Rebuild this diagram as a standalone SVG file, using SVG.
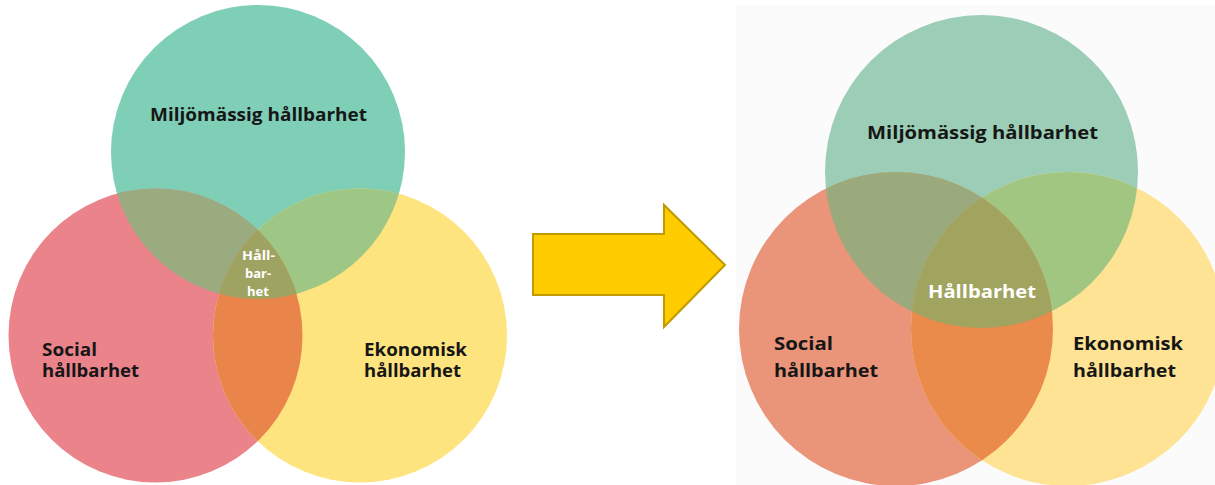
<svg xmlns="http://www.w3.org/2000/svg" width="1215" height="485" viewBox="0 0 1215 485">
<style>
.lbl{font-family:"Open Sans","Noto Sans","Liberation Sans",sans-serif;font-weight:bold;fill:#161616}
.w{fill:#ffffff}
</style>
<defs>
<clipPath id="lG"><circle cx="258" cy="152" r="147"/></clipPath>
<clipPath id="lR"><circle cx="155.5" cy="335.5" r="147"/></clipPath>
<clipPath id="lY"><circle cx="360" cy="335.5" r="147"/></clipPath>
<clipPath id="rG"><circle cx="981.5" cy="171.5" r="156.5"/></clipPath>
<clipPath id="rR"><circle cx="896" cy="329" r="157"/></clipPath>
<clipPath id="rY"><circle cx="1068" cy="329" r="157"/></clipPath>
</defs>
<rect width="1215" height="485" fill="#ffffff"/>
<rect x="736" y="5" width="479" height="480" fill="#fbfbfb"/>

<g id="left-venn">
<g id="left-green"><circle cx="258" cy="152" r="147" fill="#7ecfb6"/></g>
<g id="left-red"><circle cx="155.5" cy="335.5" r="147" fill="#eb848a"/></g>
<g id="left-yellow"><circle cx="360" cy="335.5" r="147" fill="#fee47f"/></g>
<circle cx="155.5" cy="335.5" r="147" fill="#9aab80" clip-path="url(#lG)"/>
<circle cx="360" cy="335.5" r="147" fill="#9ec685" clip-path="url(#lG)"/>
<circle cx="360" cy="335.5" r="147" fill="#e9854b" clip-path="url(#lR)"/>
<g clip-path="url(#lG)"><circle cx="360" cy="335.5" r="147" fill="#9fa362" clip-path="url(#lR)"/></g>
<text class="lbl" x="150" y="121" font-size="17" textLength="217" lengthAdjust="spacingAndGlyphs">Miljömässig hållbarhet</text>
<text class="lbl" x="42" y="356" font-size="17" textLength="55" lengthAdjust="spacingAndGlyphs">Social</text>
<text class="lbl" x="42" y="377" font-size="17" textLength="97" lengthAdjust="spacingAndGlyphs">hållbarhet</text>
<text class="lbl" x="364" y="356" font-size="17" textLength="103" lengthAdjust="spacingAndGlyphs">Ekonomisk</text>
<text class="lbl" x="364" y="377" font-size="17" textLength="97" lengthAdjust="spacingAndGlyphs">hållbarhet</text>
<text class="lbl w" x="242" y="260" font-size="13" textLength="33" lengthAdjust="spacingAndGlyphs">Håll-</text>
<text class="lbl w" x="258" y="278" font-size="13" text-anchor="middle">bar-</text>
<text class="lbl w" x="258" y="296" font-size="13" text-anchor="middle">het</text>
</g>

<g id="connectors">
<path id="arrow" d="M533,234 L664,234 L664,205 L725,265 L664,327 L664,295 L533,295 Z" fill="#ffcc00" stroke="#bf9a00" stroke-width="2" stroke-linejoin="miter"/>
</g>

<g id="right-venn">
<g id="right-green"><circle cx="981.5" cy="171.5" r="156.5" fill="#9bcdb7"/></g>
<g id="right-red"><circle cx="896" cy="329" r="157" fill="#ea9479"/></g>
<g id="right-yellow"><circle cx="1068" cy="329" r="157" fill="#fde393"/></g>
<circle cx="896" cy="329" r="157" fill="#9aaa7c" clip-path="url(#rG)"/>
<circle cx="1068" cy="329" r="157" fill="#a0c682" clip-path="url(#rG)"/>
<circle cx="1068" cy="329" r="157" fill="#ea8a4b" clip-path="url(#rR)"/>
<g clip-path="url(#rG)"><circle cx="1068" cy="329" r="157" fill="#a0a45e" clip-path="url(#rR)"/></g>
<text class="lbl" x="867" y="139" font-size="18" textLength="231" lengthAdjust="spacingAndGlyphs" fill="#1e1e1e">Miljömässig hållbarhet</text>
<text class="lbl w" x="928" y="298" font-size="18" textLength="108" lengthAdjust="spacingAndGlyphs">Hållbarhet</text>
<text class="lbl" x="774" y="350" font-size="18" textLength="59" lengthAdjust="spacingAndGlyphs">Social</text>
<text class="lbl" x="774" y="377" font-size="18" textLength="104" lengthAdjust="spacingAndGlyphs">hållbarhet</text>
<text class="lbl" x="1073" y="350" font-size="18" textLength="110" lengthAdjust="spacingAndGlyphs">Ekonomisk</text>
<text class="lbl" x="1073" y="377" font-size="18" textLength="103" lengthAdjust="spacingAndGlyphs">hållbarhet</text>
</g>
</svg>
